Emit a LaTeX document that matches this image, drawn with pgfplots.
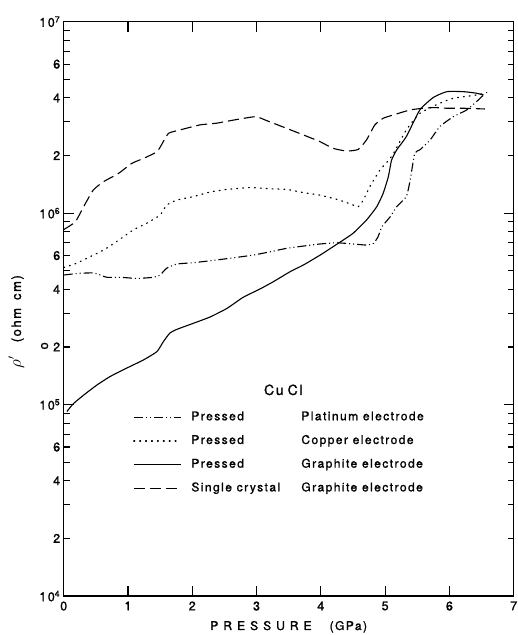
\documentclass[border=0pt]{standalone}
\usepackage{pgfplots}
\pgfplotsset{compat=1.18}
\usepackage{fontspec}
\setmainfont{TeX Gyre Heros}[LetterSpace=12, FakeBold=1.2]
\newfontfamily\widefont{TeX Gyre Heros}[LetterSpace=42, FakeBold=1.2]

% resistivity of CuCl versus pressure
\pgfplotstableread{
x y
0.00 8.2e5
0.18 9.0e5
0.31 1.08e6
0.46 1.32e6
0.62 1.46e6
0.85 1.61e6
1.06 1.82e6
1.24 1.93e6
1.45 2.09e6
1.52 2.27e6
1.63 2.61e6
1.81 2.72e6
2.12 2.89e6
2.38 2.95e6
2.59 3.04e6
2.98 3.19e6
3.16 3.04e6
3.47 2.77e6
3.73 2.56e6
3.99 2.36e6
4.19 2.18e6
4.40 2.11e6
4.58 2.15e6
4.71 2.41e6
4.84 2.89e6
4.97 3.13e6
5.13 3.26e6
5.39 3.46e6
5.59 3.53e6
5.77 3.56e6
5.96 3.53e6
6.22 3.53e6
6.55 3.50e6
}\singlegraphite

\pgfplotstableread{
x y
0.00 5.2e5
0.20 5.47e5
0.41 5.92e5
0.62 6.41e5
0.82 7.09e5
1.08 8.16e5
1.29 8.85e5
1.50 9.78e5
1.60 1.10e6
1.76 1.17e6
2.02 1.22e6
2.28 1.29e6
2.54 1.33e6
2.90 1.36e6
3.21 1.34e6
3.47 1.33e6
3.73 1.28e6
3.99 1.24e6
4.25 1.18e6
4.45 1.12e6
4.58 1.08e6
4.66 1.17e6
4.76 1.37e6
4.92 1.68e6
5.05 1.88e6
5.13 2.05e6
5.33 2.72e6
5.54 3.32e6
5.85 3.75e6
6.06 3.98e6
6.42 4.14e6
6.58 4.26e6
}\pressedcopper

\pgfplotstableread{
x y
0.00 4.75e5
0.25 4.85e5
0.46 4.87e5
0.57 4.75e5
0.67 4.62e5
0.88 4.62e5
1.14 4.56e5
1.39 4.62e5
1.50 4.75e5
1.60 5.15e5
1.76 5.42e5
2.02 5.51e5
2.28 5.64e5
2.59 5.81e5
2.95 6.04e5
3.21 6.28e5
3.47 6.55e5
3.73 6.73e5
3.99 6.90e5
4.25 7.00e5
4.50 6.90e5
4.71 6.81e5
4.82 6.95e5
4.89 7.53e5
4.95 8.49e5
5.08 9.58e5
5.18 1.08e6
5.33 1.22e6
5.39 1.49e6
5.46 2.05e6
5.54 2.14e6
5.70 2.41e6
5.85 2.83e6
6.06 3.19e6
6.27 3.46e6
6.45 3.90e6
6.53 4.14e6
}\pressedplatinum

\pgfplotstableread{
x y
0.05 9.2e4
0.15 1.01e5
0.31 1.12e5
0.51 1.26e5
0.72 1.40e5
0.98 1.55e5
1.24 1.71e5
1.45 1.89e5
1.55 2.13e5
1.65 2.36e5
1.76 2.47e5
2.02 2.66e5
2.28 2.87e5
2.54 3.18e5
2.79 3.63e5
3.05 4.01e5
3.26 4.38e5
3.52 4.94e5
3.73 5.36e5
3.99 6.04e5
4.27 6.95e5
4.50 7.84e5
4.71 9.20e5
4.87 1.08e6
4.97 1.27e6
5.05 1.55e6
5.10 1.89e6
5.18 2.14e6
5.33 2.51e6
5.54 3.46e6
5.75 4.02e6
5.96 4.31e6
6.22 4.31e6
6.42 4.23e6
6.53 4.14e6
}\pressedgraphite

\begin{document}
\begin{tikzpicture}
\useasboundingbox (-63.7pt,-39pt) rectangle (454.3pt,596pt);
\begin{axis}[
  at={(0pt,0pt)}, anchor=south west,
  scale only axis, width=450pt, height=574.3pt,
  xmin=0, xmax=7, ymode=log, ymin=1e4, ymax=1e7,
  axis line style={line width=1.6pt},
  every tick/.style={black, line width=1.2pt},
  tick align=inside,
  major tick length=10pt, minor tick length=6pt,
  xtick={0,...,7},
  ytick={1e4,1e5,1e6,1e7},
  yticklabels={10\textsuperscript{4},10\textsuperscript{5},10\textsuperscript{6},10\textsuperscript{7}},
  minor ytick={3e4,5e4,7e4,8e4,9e4,3e5,5e5,7e5,8e5,9e5,3e6,5e6,7e6,8e6,9e6},
  extra y ticks={2e4,4e4,6e4,2e5,4e5,6e5,2e6,4e6,6e6},
  extra y tick labels={2,4,6,2,4,6,2,4,6},
  extra y tick style={major tick length=6pt},
  /pgf/number format/assume math mode=true,
  tick label style={font=\fontsize{12.5}{14}\selectfont},
  xticklabel style={yshift=-2pt},
  xlabel={{\widefont PRESSURE}\hspace{18pt}(GPa)},
  xlabel style={at={(rel axis cs:0.5,0)}, anchor=base, yshift=-34pt, font=\fontsize{12}{14}\selectfont},
  ylabel={\fontsize{16}{18}\selectfont$\rho'$\hspace{14pt}\llap{\raisebox{-27pt}{\fontsize{13}{15}\selectfont o}}\fontsize{13}{15}\selectfont(ohm\hspace{8pt}cm)},
  ylabel style={at={(rel axis cs:-0.0949,0.39)}, anchor=base west},
  legend style={draw=none, fill=none, at={(rel axis cs:0.154,0.322)}, anchor=north west,
    inner sep=0pt, row sep=11.7pt, font=\fontsize{12}{14}\selectfont,
    nodes={inner sep=0pt, text height=9pt, text depth=3pt},
    /tikz/every odd column/.append style={column sep=10pt}},
  legend cell align=left,
  legend image code/.code={\draw[#1] (0pt,0pt) -- (47pt,0pt);},
  every axis plot/.append style={black, line width=1.1pt, smooth, tension=0.3},
]
\addplot[dash pattern=on 9pt off 3pt on 1pt off 3pt on 1pt off 3pt] table {\pressedplatinum};
\addlegendentry{\makebox[110pt][l]{Pressed}Platinum electrode}
\addplot[dash pattern=on 0.9pt off 5pt, line cap=round, line width=1.2pt] table {\pressedcopper};
\addlegendentry{\makebox[110pt][l]{Pressed}Copper electrode}
\addplot[solid] table {\pressedgraphite};
\addlegendentry{\makebox[110pt][l]{Pressed}Graphite electrode}
\addplot[dash pattern=on 11pt off 5pt] table {\singlegraphite};
\addlegendentry{\makebox[110pt][l]{Single crystal}Graphite electrode}
\node[anchor=base, font=\fontsize{14}{16}\selectfont] at (rel axis cs:0.488,0.35) {Cu\hspace{4pt}Cl};
\end{axis}
\end{tikzpicture}
\end{document}
